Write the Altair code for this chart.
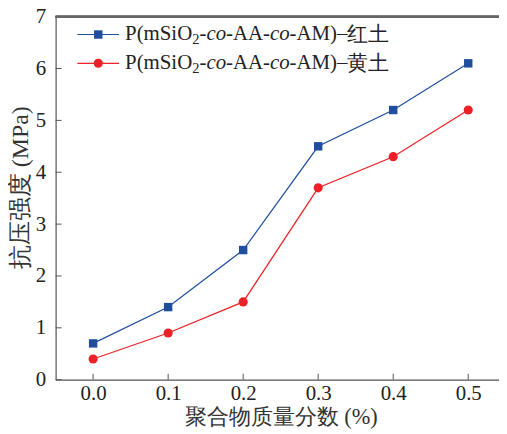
import altair as alt
import pandas as pd

x_vals = [0.0, 0.1, 0.2, 0.3, 0.4, 0.5]
red_soil = [0.7, 1.4, 2.5, 4.5, 5.2, 6.1]
yellow_soil = [0.4, 0.9, 1.5, 3.7, 4.3, 5.2]
soil_labels = ["红土", "黄土"]
series_names = ["P(mSiO₂-co-AA-co-AM)–红土", "P(mSiO₂-co-AA-co-AM)–黄土"]
# legend text fragments (plain / subscript / italic pieces of the polymer name)
name_parts = ["P(mSiO", "2", "-", "co", "-AA-", "co", "-AM)–"]
x_ticks = [0.0, 0.1, 0.2, 0.3, 0.4, 0.5]
y_ticks = [0, 1, 2, 3, 4, 5, 6, 7]

BLUE = "#1f4e9e"
RED = "#ec2127"
GRAY = "#555555"
FONT = "Liberation Serif"
W, H = 447, 366

df = pd.DataFrame({
    "x": x_vals * 2,
    "y": red_soil + yellow_soil,
    "s": [series_names[0]] * 6 + [series_names[1]] * 6,
})

xs = alt.Scale(domain=[-0.05, 0.541], nice=False, zero=False)
ys = alt.Scale(domain=[0, 7], nice=False)

xaxis = alt.Axis(title="聚合物质量分数 (%)", values=x_ticks, format=".1f", ticks=False,
                 grid=False, domainColor=GRAY, domainWidth=1.2, labelPadding=3,
                 titlePadding=2, titleFontSize=22.5, titleX=227)
yaxis = alt.Axis(title="抗压强度 (MPa)", values=y_ticks, format="d", ticks=False,
                 grid=False, domainColor=GRAY, domainWidth=1.2, labelPadding=10,
                 titlePadding=3, titleFontSize=24, titleY=172)

base = alt.Chart(df)
blue_line = base.transform_filter(alt.datum.s == series_names[0]).mark_line(
    color=BLUE, strokeWidth=1.2).encode(
    x=alt.X("x:Q", scale=xs, axis=xaxis), y=alt.Y("y:Q", scale=ys, axis=yaxis))
blue_pts = base.transform_filter(alt.datum.s == series_names[0]).mark_point(
    shape="square", filled=True, size=72, color=BLUE, opacity=1).encode(
    x=alt.X("x:Q", scale=xs), y=alt.Y("y:Q", scale=ys))
red_line = base.transform_filter(alt.datum.s == series_names[1]).mark_line(
    color=RED, strokeWidth=1.2).encode(
    x=alt.X("x:Q", scale=xs), y=alt.Y("y:Q", scale=ys))
red_pts = base.transform_filter(alt.datum.s == series_names[1]).mark_point(
    shape="circle", filled=True, size=85, color=RED, opacity=1).encode(
    x=alt.X("x:Q", scale=xs), y=alt.Y("y:Q", scale=ys))

xt = pd.DataFrame({"x": x_ticks})
yt = pd.DataFrame({"y": y_ticks})
xtick_marks = alt.Chart(xt).mark_rule(color=GRAY, strokeWidth=1).encode(
    x=alt.X("x:Q", scale=xs), y=alt.value(H), y2=alt.value(H - 6))
ytick_marks = alt.Chart(yt).mark_rule(color=GRAY, strokeWidth=1).encode(
    y=alt.Y("y:Q", scale=ys), x=alt.value(0), x2=alt.value(6))
top_border = alt.Chart(xt).mark_rule(color="#666666", strokeWidth=2).encode(
    x=alt.value(0), x2=alt.value(W), y=alt.value(0))

# legend layout (pixel offsets within the plot area)
LEG_LINE_Y = [18, 47]
LEG_BASE_Y = [24, 53]
FRAG_X = [70, 137.7, 145.0, 152.0, 171.8, 216.1, 235.9]
FRAG_STYLE = ["normal", "sub", "normal", "italic", "normal", "italic", "normal"]

leg_layers = []
for i, (col, shp, sz) in enumerate([(BLUE, "square", 72), (RED, "circle", 85)]):
    c = alt.Chart(pd.DataFrame({"name": [series_names[i]]}))
    leg_layers.append(c.mark_rule(color=col, strokeWidth=1.2).encode(
        x=alt.value(22), x2=alt.value(64), y=alt.value(LEG_LINE_Y[i])))
    leg_layers.append(c.mark_point(shape=shp, filled=True, size=sz, color=col, opacity=1).encode(
        x=alt.value(43), y=alt.value(LEG_LINE_Y[i])))
    for j, part in enumerate(name_parts):
        style = FRAG_STYLE[j]
        leg_layers.append(c.mark_text(
            align="left", baseline="alphabetic", font=FONT,
            fontSize=14.5 if style == "sub" else 21,
            fontStyle="italic" if style == "italic" else "normal",
            color="#222222").encode(
            x=alt.value(FRAG_X[j]),
            y=alt.value(LEG_BASE_Y[i] + (4 if style == "sub" else 0)),
            text=alt.value(part)))
    # soil name, slightly larger CJK glyphs as in the reference
    leg_layers.append(c.mark_text(
        align="left", baseline="alphabetic", font=FONT, fontSize=21.5,
        color="#222222").encode(
        x=alt.value(294), y=alt.value(LEG_BASE_Y[i] + 1), text=alt.value(soil_labels[i])))

chart = alt.layer(blue_line, red_line, blue_pts, red_pts, xtick_marks, ytick_marks,
                  top_border, *leg_layers).properties(
    width=W, height=H,
    autosize=alt.AutoSizeParams(type="none"),
    padding={"left": 48, "top": 7, "right": 0, "bottom": 52},
).configure_view(stroke=None).configure_axis(
    labelFont=FONT, titleFont=FONT, labelFontSize=21,
    labelColor="#222222", titleColor="#333333", titleFontWeight="normal")

chart.save("out.html", embed_options={"renderer": "svg", "actions": False})
